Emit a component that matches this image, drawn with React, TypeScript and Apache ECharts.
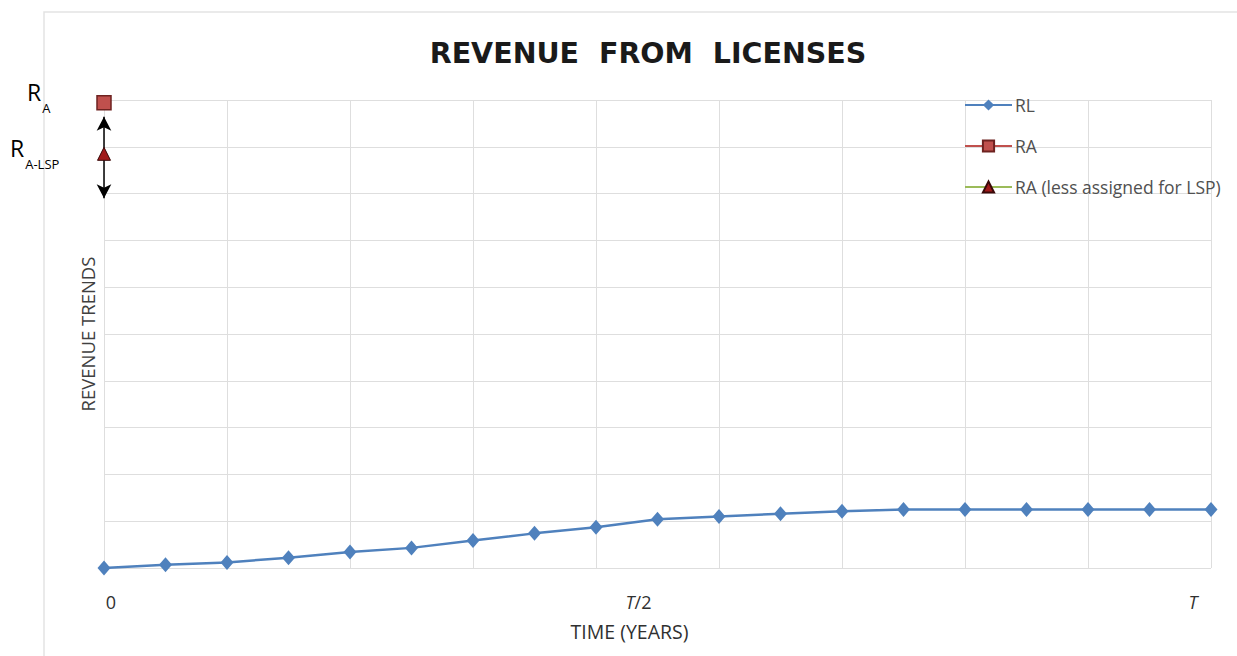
import React, { useEffect, useRef } from "react";
import * as echarts from "echarts";

const categories = ["0", "1", "2", "3", "4", "5", "6", "7", "8", "9", "10", "11", "12", "13", "14", "15", "16", "17", "18"];
const rlValues = [0, 0.07, 0.12, 0.22, 0.34, 0.43, 0.59, 0.74, 0.87, 1.04, 1.1, 1.16, 1.21, 1.25, 1.25, 1.25, 1.25, 1.25, 1.25];
const raValues = [9.94, null, null, null, null, null, null, null, null, null, null, null, null, null, null, null, null, null, null];
const raLspValues = [8.85, null, null, null, null, null, null, null, null, null, null, null, null, null, null, null, null, null, null];
const arrowRange = [9.64, 7.9];
const tickLabels: Record<number, string> = { 0: "{z|0}", 9: "{i|T}{n|/2}", 18: "{t|T}" };
const seriesNames = ["RL", "RA", "RA (less assigned for LSP)"];

const FONT = "'Open Sans', 'Noto Sans', sans-serif";
const TXT = "#303030";

export default function App() {
  const ref = useRef<HTMLDivElement>(null);
  useEffect(() => {
    if (!ref.current) return;
    const chart = echarts.init(ref.current, undefined, { renderer: "svg" });
    chart.setOption({
      animation: false,
      backgroundColor: "#ffffff",
      title: {
        text: "REVENUE  FROM  LICENSES",
        left: 643,
        top: 34,
        textAlign: "center",
        textStyle: { fontFamily: "'DejaVu Sans', sans-serif", fontWeight: "bold", fontSize: 28.5, color: "#1a1a1a" },
      },
      legend: {
        orient: "vertical",
        left: 964,
        top: 96,
        itemWidth: 47,
        itemHeight: 14,
        itemGap: 23,
        padding: 0,
        data: seriesNames,
        textStyle: { fontFamily: FONT, fontSize: 17.5, color: "#505050", padding: [0, 0, 0, -2] },
      },
      grid: { left: 104, right: 26, top: 100, bottom: 88, containLabel: false },
      xAxis: {
        type: "category",
        data: categories,
        boundaryGap: false,
        axisLine: { show: false },
        axisTick: { show: false },
        splitLine: { show: true, interval: 1, lineStyle: { color: "#dedede", width: 1 } },
        axisLabel: {
          interval: (i: number) => tickLabels[i] !== undefined,
          formatter: (_v: string, i: number) => tickLabels[i] ?? "",
          margin: 25,
          color: TXT,
          fontFamily: FONT,
          fontSize: 18,
          rich: {
            z: { fontFamily: FONT, fontSize: 18, color: TXT, padding: [0, 0, 0, 14] },
            i: { fontFamily: FONT, fontSize: 18, fontStyle: "italic", color: TXT },
            n: { fontFamily: FONT, fontSize: 18, color: TXT, padding: [0, 38, 0, 0] },
            t: { fontFamily: FONT, fontSize: 18, fontStyle: "italic", color: TXT, padding: [0, 36, 0, 0] },
          },
        },
        name: "TIME (YEARS)",
        nameLocation: "middle",
        nameGap: 53,
        nameTextStyle: { fontFamily: FONT, fontSize: 19.5, color: TXT, padding: [0, 56, 0, 0] },
      },
      yAxis: {
        type: "value",
        min: 0,
        max: 10,
        interval: 1,
        axisLine: { show: false },
        axisTick: { show: false },
        axisLabel: { show: false },
        splitLine: { show: true, lineStyle: { color: "#dedede", width: 1 } },
        name: "REVENUE TRENDS",
        nameLocation: "middle",
        nameGap: 7,
        nameTextStyle: { fontFamily: FONT, fontSize: 18.5, color: "#404040" },
      },
      series: [
        {
          name: seriesNames[0],
          type: "line",
          data: rlValues,
          symbol: "diamond",
          symbolSize: [13, 15],
          lineStyle: { color: "#4f81bd", width: 2.5 },
          itemStyle: { color: "#4f81bd" },
          z: 3,
        },
        {
          name: seriesNames[1],
          type: "line",
          data: raValues,
          symbol: "rect",
          symbolSize: 14,
          lineStyle: { color: "#c0504d", width: 2.5 },
          itemStyle: { color: "#c0504d", borderColor: "#6e2220", borderWidth: 1.5 },
          z: 4,
          markLine: {
            silent: true,
            symbol: ["arrow", "arrow"],
            symbolSize: [11, 14],
            label: { show: false },
            lineStyle: { color: "#000000", width: 1.5, type: "solid" },
            data: [[{ coord: [0, arrowRange[0]] }, { coord: [0, arrowRange[1]] }]],
          },
        },
        {
          name: seriesNames[2],
          type: "line",
          data: raLspValues,
          symbol: "triangle",
          symbolSize: [13, 13],
          lineStyle: { color: "#9bbb59", width: 2.5 },
          itemStyle: { color: "#a01a1a", borderColor: "#3a0a0a", borderWidth: 1 },
          z: 5,
        },
      ],
      graphic: [
        {
          type: "rect",
          shape: { x: 44, y: 12, width: 1220, height: 670 },
          style: { fill: "none", stroke: "#e3e3e3", lineWidth: 1.5 },
          silent: true,
          z: -1,
        },
        {
          type: "text",
          x: 27,
          y: 80,
          style: {
            text: "{r|R}{s|A}",
            rich: {
              r: { fontFamily: FONT, fontSize: 23, color: TXT, lineHeight: 34, verticalAlign: "top" },
              s: { fontFamily: FONT, fontSize: 13, color: TXT, lineHeight: 34, verticalAlign: "bottom", padding: [18, 0, 0, 1] },
            },
          },
        },
        {
          type: "text",
          x: 10,
          y: 136,
          style: {
            text: "{r|R}{s|A-LSP}",
            rich: {
              r: { fontFamily: FONT, fontSize: 23, color: TXT, lineHeight: 34, verticalAlign: "top" },
              s: { fontFamily: FONT, fontSize: 13, color: TXT, lineHeight: 34, verticalAlign: "bottom", padding: [18, 0, 0, 1] },
            },
          },
        },
      ],
    });
    return () => chart.dispose();
  }, []);
  return <div ref={ref} style={{ position: "fixed", left: 0, top: 0, width: 1237, height: 656 }} />;
}
